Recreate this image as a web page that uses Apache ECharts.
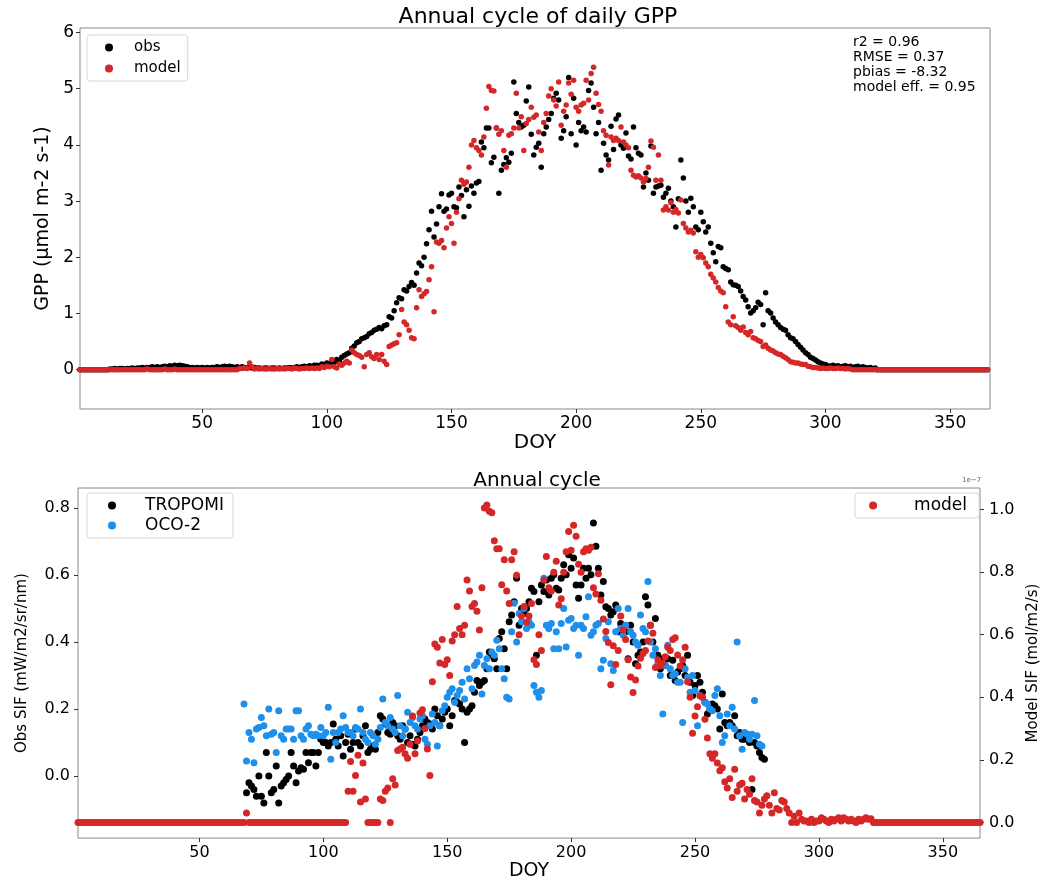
<!DOCTYPE html>
<html><head><meta charset="utf-8">
<script src="https://cdn.jsdelivr.net/npm/echarts@6/dist/echarts.min.js"></script>
<style>html,body{margin:0;padding:0;background:#fff}#c{width:1049px;height:882px}</style>
</head><body><div id="c"></div>
<script>
// ---------- Top chart: daily GPP (one value per DOY, day 1..365) ----------
const obsGPP = [
/*1*/0,0,0,0,0,0,0,0,0,0,
/*11*/0,0,0.01,0.01,0.02,0.01,0.02,0.02,0.01,0.02,
/*21*/0.02,0.03,0.02,0.03,0.03,0.04,0.03,0.04,0.04,0.05,
/*31*/0.04,0.05,0.04,0.05,0.06,0.05,0.07,0.06,0.08,0.07,
/*41*/0.08,0.07,0.06,0.05,0.04,0.04,0.03,0.04,0.03,0.04,
/*51*/0.03,0.04,0.03,0.04,0.04,0.05,0.04,0.05,0.06,0.05,
/*61*/0.06,0.05,0.04,0.05,0.04,0.05,0.04,0.03,0.04,0.03,
/*71*/0.04,0.03,0.03,0.02,0.03,0.03,0.02,0.03,0.03,0.02,
/*81*/0.03,0.02,0.03,0.03,0.04,0.03,0.04,0.05,0.04,0.05,
/*91*/0.06,0.05,0.07,0.06,0.08,0.08,0.06,0.10,0.08,0.12,
/*101*/0.10,0.14,0.13,0.18,0.16,0.22,0.25,0.28,0.30,0.38,
/*111*/0.42,0.48,0.50,0.55,0.57,0.59,0.64,0.66,0.70,0.72,
/*121*/0.75,0.73,0.78,0.80,0.94,0.92,1.05,1.19,1.28,1.26,
/*131*/1.42,1.40,1.48,1.55,1.50,1.72,1.90,1.85,2.00,2.24,
/*141*/2.49,2.82,2.36,2.59,2.90,3.13,2.82,2.86,3.11,3.14,
/*151*/2.90,2.88,3.25,3.10,2.72,3.20,2.91,3.27,3.14,3.32,
/*161*/3.35,4.05,3.95,4.30,4.30,3.68,3.78,4.30,3.14,3.55,
/*171*/3.65,3.77,3.69,3.85,5.12,4.56,4.40,4.32,4.35,4.78,
/*181*/5.03,4.19,3.82,3.96,4.03,3.60,4.20,4.32,4.45,4.56,
/*191*/4.83,4.92,4.80,4.12,4.25,4.50,5.20,4.20,4.83,4.00,
/*201*/4.40,4.25,4.32,4.23,4.97,5.10,4.67,4.20,4.40,3.55,
/*211*/4.03,3.82,3.73,4.33,3.92,4.46,4.53,4.00,3.94,4.21,
/*221*/3.80,3.75,4.32,3.95,3.85,3.82,3.25,3.50,3.37,3.98,
/*231*/3.14,3.25,3.27,3.28,3.07,3.14,3.23,3.00,2.90,2.54,
/*241*/3.04,3.73,3.41,3.00,2.80,3.05,2.90,2.54,2.49,2.80,
/*251*/2.63,2.45,2.54,2.25,2.08,1.92,2.19,2.17,1.83,1.80,
/*261*/1.78,1.56,1.51,1.50,1.48,1.40,1.30,1.24,1.12,1.01,
/*271*/1.05,1.10,1.20,1.16,0.80,1.37,1.05,1.01,0.92,0.85,
/*281*/0.80,0.75,0.72,0.70,0.62,0.57,0.55,0.50,0.45,0.40,
/*291*/0.35,0.30,0.27,0.22,0.20,0.17,0.14,0.12,0.10,0.09,
/*301*/0.07,0.06,0.08,0.06,0.07,0.05,0.06,0.07,0.05,0.06,
/*311*/0.04,0.05,0.06,0.04,0.05,0.04,0.03,0.04,0.02,0.03,
/*321*/0,0,0,0,0,0,0,0,0,0,
/*331*/0,0,0,0,0,0,0,0,0,0,
/*341*/0,0,0,0,0,0,0,0,0,0,
/*351*/0,0,0,0,0,0,0,0,0,0,
/*361*/0,0,0,0,0
];
const modelGPP = [
/*1*/0,0,0,0,0,0,0,0,0,0,
/*11*/0,0,0,0,0,0,0,0,0,0,
/*21*/0,0,0,0,0,0,0,0.01,0,0,
/*31*/0,0,0,0,0.01,0,0,0,0.01,0,
/*41*/0,0,0,0,0,0,0,0,0,0,
/*51*/0,0,0,0,0,0,0,0,0,0,
/*61*/0,0,0,0,0.02,0.02,0.03,0.02,0.12,0.05,
/*71*/0.01,0.02,0.01,0.02,0.01,0.01,0.02,0.01,0.01,0.02,
/*81*/0.01,0.02,0.01,0.02,0.02,0.01,0.03,0.02,0.01,0.02,
/*91*/0.02,0.03,0.02,0.03,0.02,0.03,0.02,0.05,0.04,0.06,
/*101*/0.05,0.18,0.05,0.03,0.10,0.08,0.12,0.15,0.12,0.35,
/*111*/0.30,0.27,0.25,0.22,0.05,0.27,0.30,0.23,0.20,0.27,
/*121*/0.18,0.27,0.15,0.09,0.41,0.44,0.46,0.48,0.62,1.07,
/*131*/0.85,0.80,0.70,0.57,0.55,1.10,1.42,1.30,1.35,1.39,
/*141*/1.60,1.83,1.03,2.27,2.25,2.30,2.17,2.52,2.72,2.60,
/*151*/2.25,2.80,3.04,3.37,3.30,3.34,3.60,4.00,4.08,3.95,
/*161*/3.90,3.82,4.14,4.65,5.04,4.97,4.96,4.30,4.19,4.25,
/*171*/3.90,3.60,4.17,4.20,4.30,4.92,4.30,4.50,3.90,4.38,
/*181*/4.45,4.67,4.49,4.53,4.23,3.90,4.40,4.56,4.87,5.00,
/*191*/4.80,4.69,5.12,4.35,4.60,4.71,5.10,4.90,5.15,4.67,
/*201*/4.60,4.71,4.74,5.15,4.80,5.27,5.38,4.92,4.72,4.60,
/*211*/4.25,4.17,3.64,4.14,4.08,4.12,4.08,4.32,4.05,4.00,
/*221*/3.95,3.55,3.46,3.43,3.45,3.41,3.34,3.40,3.60,4.07,
/*231*/3.96,3.37,3.82,3.37,2.84,2.90,2.84,2.97,2.80,2.85,
/*241*/2.79,3.02,2.60,2.52,2.45,2.48,2.43,2.10,2.00,2.05,
/*251*/1.99,1.90,1.83,1.70,1.63,1.56,1.46,1.40,1.37,1.12,
/*261*/0.85,0.80,0.94,0.78,0.75,0.70,0.76,0.66,0.62,0.68,
/*271*/0.57,0.55,0.52,0.50,0.41,0.44,0.38,0.35,0.33,0.30,
/*281*/0.28,0.27,0.24,0.21,0.18,0.14,0.13,0.12,0.12,0.10,
/*291*/0.09,0.09,0.06,0.05,0.04,0.04,0.03,0.02,0.03,0.02,
/*301*/0.02,0.03,0.02,0.02,0.03,0.02,0.02,0.01,0.02,0.01,
/*311*/0,0,0,0,0,0,0,0,0,0,
/*321*/0,0,0,0,0,0,0,0,0,0,
/*331*/0,0,0,0,0,0,0,0,0,0,
/*341*/0,0,0,0,0,0,0,0,0,0,
/*351*/0,0,0,0,0,0,0,0,0,0,
/*361*/0,0,0,0,0
];
const gppStats = ['r2 = 0.96', 'RMSE = 0.37', 'pbias = -8.32', 'model eff. = 0.95'];

// ---------- Bottom chart: SIF ----------
// Model SIF, one value per DOY (units of 1e-7 mol/m2/s)
const modelSIF = [
/*1*/0,0,0,0,0,0,0,0,0,0,
/*11*/0,0,0,0,0,0,0,0,0,0,
/*21*/0,0,0,0,0,0,0,0,0,0,
/*31*/0,0,0,0,0,0,0,0,0,0,
/*41*/0,0,0,0,0,0,0,0,0,0,
/*51*/0,0,0,0,0,0,0,0,0,0,
/*61*/0,0,0,0,0,0,0,0,0.03,0,
/*71*/0,0,0,0,0,0,0,0,0,0,
/*81*/0,0,0,0,0,0,0,0,0,0,
/*91*/0,0,0,0,0,0,0,0,0,0,
/*101*/0,0,0,0,0,0,0,0,0,0.10,
/*111*/0.195,0.10,0.15,0.215,0.065,0.19,0.075,0,0,0,
/*121*/0,0,0.075,0.07,0.10,0.11,0,0.14,0.12,0.23,
/*131*/0.235,0.24,0.22,0.205,0.25,0.34,0.22,0.26,0.35,0.36,
/*141*/0.30,0.235,0.15,0.45,0.57,0.56,0.51,0.585,0.505,0.52,
/*151*/0.47,0.58,0.60,0.69,0.62,0.60,0.63,0.775,0.74,0.69,
/*161*/0.70,0.675,0.615,0.75,1.005,1.015,0.995,0.99,0.90,0.875,
/*171*/0.875,0.76,0.84,0.74,0.70,0.84,0.865,0.79,0.60,0.66,
/*181*/0.69,0.64,0.66,0.70,0.52,0.505,0.60,0.55,0.775,0.85,
/*191*/0.75,0.74,0.80,0.835,0.695,0.715,0.80,0.865,0.93,0.87,
/*201*/0.95,0.915,0.825,0.80,0.865,0.875,0.87,0.88,0.75,0.73,
/*211*/0.795,0.71,0.65,0.61,0.575,0.44,0.565,0.505,0.55,0.66,
/*221*/0.615,0.585,0.52,0.465,0.415,0.455,0.50,0.525,0.54,0.55,
/*231*/0.58,0.63,0.605,0.495,0.52,0.50,0.51,0.53,0.56,0.55,
/*241*/0.585,0.59,0.535,0.50,0.52,0.56,0.45,0.40,0.285,0.34,
/*251*/0.37,0.405,0.40,0.33,0.27,0.22,0.205,0.22,0.19,0.165,
/*261*/0.175,0.13,0.11,0.14,0.08,0.17,0.10,0.12,0.125,0.075,
/*271*/0.105,0.09,0.14,0.07,0.065,0.03,0.055,0.075,0.085,0.055,
/*281*/0.03,0.095,0.045,0.04,0.07,0.065,0.045,0.03,0,0.02,
/*291*/0,0.03,0.01,0.005,0.005,0,0.01,0,0.005,0.005,
/*301*/0.015,0.01,0.005,0,0.01,0.005,0.01,0.015,0.005,0.015,
/*311*/0.01,0.005,0.01,0.005,0,0.01,0.005,0.01,0.015,0.01,
/*321*/0.012,0,0,0,0,0,0,0,0,0,
/*331*/0,0,0,0,0,0,0,0,0,0,
/*341*/0,0,0,0,0,0,0,0,0,0,
/*351*/0,0,0,0,0,0,0,0,0,0,
/*361*/0,0,0,0,0
];
// TROPOMI SIF [DOY, mW/m2/sr/nm]
const tropomiSIF = [
[69,-0.05],[70,-0.02],[71,-0.03],[72,-0.04],[73,-0.06],[74,0.0],[75,-0.06],[76,-0.08],[77,0.07],[78,0.0],
[79,-0.05],[80,-0.04],[81,0.03],[82,-0.08],[83,-0.03],[84,-0.02],[85,-0.01],[86,0.0],[87,0.07],[88,0.03],
[89,-0.02],[90,0.015],[91,0.025],[92,0.02],[93,0.07],[94,0.04],[95,0.07],[96,0.07],[97,0.03],[98,0.07],
[99,0.11],[100,0.10],[101,0.10],[102,0.09],[103,0.10],[104,0.155],[105,0.11],[106,0.09],[107,0.12],[108,0.06],
[109,0.10],[110,0.125],[111,0.08],[112,0.10],[113,0.14],[114,0.10],[115,0.09],[116,0.12],[117,0.15],[118,0.07],
[119,0.08],[120,0.09],[121,0.08],[122,0.13],[123,0.18],[124,0.17],[125,0.155],[126,0.13],[127,0.125],[128,0.16],
[129,0.15],[130,0.12],[131,0.11],[132,0.15],[133,0.14],[134,0.10],[135,0.12],[136,0.095],[137,0.09],[138,0.11],
[139,0.13],[140,0.15],[141,0.17],[142,0.16],[143,0.155],[144,0.14],[145,0.20],[146,0.18],[147,0.15],[148,0.17],
[149,0.19],[150,0.20],[151,0.15],[152,0.18],[153,0.225],[154,0.22],[155,0.215],[156,0.20],[157,0.10],[158,0.19],
[159,0.20],[160,0.21],[161,0.25],[162,0.285],[163,0.27],[164,0.28],[165,0.285],[166,0.32],[167,0.37],[168,0.36],
[169,0.35],[170,0.32],[171,0.41],[172,0.43],[173,0.38],[174,0.32],[175,0.46],[176,0.48],[177,0.52],[178,0.59],
[179,0.45],[180,0.50],[181,0.485],[182,0.50],[183,0.52],[184,0.56],[185,0.55],[186,0.36],[187,0.52],[188,0.57],
[189,0.55],[190,0.585],[191,0.54],[192,0.59],[193,0.60],[194,0.56],[195,0.555],[196,0.59],[197,0.63],[198,0.60],
[199,0.66],[200,0.62],[201,0.65],[202,0.57],[203,0.53],[204,0.57],[205,0.62],[206,0.59],[207,0.62],[208,0.60],
[209,0.755],[210,0.685],[211,0.62],[212,0.54],[213,0.58],[214,0.505],[215,0.50],[216,0.48],[217,0.49],[218,0.51],
[219,0.43],[220,0.455],[221,0.44],[222,0.43],[223,0.35],[224,0.45],[225,0.40],[226,0.335],[227,0.36],[228,0.37],
[229,0.40],[230,0.535],[231,0.51],[232,0.45],[233,0.40],[234,0.47],[235,0.36],[236,0.32],[237,0.35],[238,0.33],
[239,0.35],[240,0.30],[241,0.345],[242,0.285],[243,0.31],[244,0.32],[245,0.33],[246,0.30],[247,0.36],[248,0.28],
[249,0.24],[250,0.27],[251,0.30],[252,0.28],[253,0.25],[254,0.22],[255,0.185],[256,0.20],[257,0.215],[258,0.21],
[259,0.20],[260,0.14],[261,0.245],[262,0.16],[263,0.15],[264,0.16],[265,0.15],[266,0.18],[267,0.12],[268,0.13],
[269,0.11],[270,0.11],[271,0.125],[272,0.10],[273,-0.04],[274,0.10],[275,0.09],[276,0.07],[277,0.055],[278,0.05]
];
// OCO-2 SIF [DOY, mW/m2/sr/nm]
const oco2SIF = [
[68,0.215],[69,0.045],[70,0.13],[71,0.11],[72,0.04],[73,0.14],[74,0.145],[75,0.175],[76,0.15],[77,0.12],
[78,0.20],[79,0.125],[80,0.13],[81,0.07],[82,0.195],[83,0.12],[84,0.11],[85,0.14],[86,0.14],[87,0.14],
[88,0.11],[89,0.195],[90,0.195],[91,0.12],[92,0.11],[93,0.14],[94,0.15],[95,0.125],[96,0.12],[97,0.125],
[98,0.12],[99,0.145],[100,0.12],[101,0.13],[102,0.205],[103,0.05],[104,0.13],[105,0.10],[106,0.13],[107,0.14],
[108,0.18],[109,0.145],[110,0.13],[111,0.13],[112,0.12],[113,0.145],[114,0.14],[115,0.20],[116,0.13],[117,0.11],
[118,0.10],[119,0.13],[120,0.12],[121,0.095],[122,0.11],[123,0.145],[124,0.23],[125,0.16],[126,0.15],[127,0.175],
[128,0.14],[129,0.13],[130,0.24],[131,0.15],[132,0.12],[133,0.14],[134,0.19],[135,0.16],[136,0.175],[137,0.15],
[138,0.14],[139,0.17],[140,0.18],[141,0.11],[142,0.095],[143,0.15],[144,0.185],[145,0.16],[146,0.09],[147,0.15],
[148,0.195],[149,0.21],[150,0.235],[151,0.25],[152,0.26],[153,0.22],[154,0.24],[155,0.255],[156,0.28],[157,0.23],
[158,0.32],[159,0.29],[160,0.26],[161,0.33],[162,0.34],[163,0.36],[164,0.245],[165,0.33],[166,0.35],[167,0.32],
[168,0.37],[169,0.36],[170,0.405],[171,0.38],[172,0.32],[173,0.29],[174,0.235],[175,0.23],[176,0.43],[177,0.515],
[178,0.40],[179,0.485],[180,0.46],[181,0.50],[182,0.44],[183,0.46],[184,0.45],[185,0.27],[186,0.25],[187,0.235],
[188,0.255],[189,0.59],[190,0.45],[191,0.44],[192,0.455],[193,0.38],[194,0.43],[195,0.38],[196,0.455],[197,0.50],
[198,0.385],[199,0.465],[200,0.47],[201,0.44],[202,0.45],[203,0.36],[204,0.45],[205,0.44],[206,0.475],[207,0.535],
[208,0.42],[209,0.43],[210,0.45],[211,0.455],[212,0.32],[213,0.345],[214,0.41],[215,0.46],[216,0.335],[217,0.315],
[218,0.43],[219,0.50],[220,0.44],[221,0.42],[222,0.45],[223,0.50],[224,0.43],[225,0.42],[226,0.40],[227,0.39],
[228,0.48],[229,0.44],[230,0.43],[231,0.58],[232,0.40],[233,0.36],[234,0.38],[235,0.335],[236,0.30],[237,0.185],
[238,0.33],[239,0.39],[240,0.32],[241,0.30],[242,0.305],[243,0.28],[244,0.28],[245,0.16],[246,0.32],[247,0.295],
[248,0.25],[249,0.30],[250,0.255],[251,0.15],[252,0.24],[253,0.235],[254,0.22],[255,0.215],[256,0.20],[257,0.195],
[258,0.24],[259,0.26],[260,0.18],[261,0.10],[262,0.12],[263,0.185],[264,0.15],[265,0.205],[266,0.14],[267,0.40],
[268,0.12],[269,0.08],[270,0.13],[271,0.125],[272,0.11],[273,0.125],[274,0.225],[275,0.12],[276,0.095],[277,0.09]
];

// Tick values
const doyTicks = [50, 100, 150, 200, 250, 300, 350];
const gppTicks = [0, 1, 2, 3, 4, 5, 6];
const obsSifTicks = [0.0, 0.2, 0.4, 0.6, 0.8];
const modelSifTicks = [0.0, 0.2, 0.4, 0.6, 0.8, 1.0];

const FONT = 'DejaVu Sans';
const RED = '#d62728', BLUE = '#1e8fea', BLACK = '#000000';
const byDay = arr => arr.map((v, i) => [i + 1, v]);

const tick = vals => ({ show: true, inside: false, length: 4, lineStyle: { color: '#333' }, customValues: vals });
const noLine = { show: false, onZero: false };

const chart = echarts.init(document.getElementById('c'), null, { renderer: 'canvas' });
chart.setOption({
  animation: false,
  backgroundColor: '#fff',
  title: [
    { text: 'Annual cycle of daily GPP', left: 533, top: 1, textAlign: 'center',
      textStyle: { fontFamily: FONT, fontSize: 22, fontWeight: 'normal', color: '#000' } },
    { text: 'Annual cycle', left: 532, top: 466, textAlign: 'center',
      textStyle: { fontFamily: FONT, fontSize: 20, fontWeight: 'normal', color: '#000' } }
  ],
  grid: [
    { left: 80, top: 28, width: 910, height: 381, show: true, borderColor: '#888', borderWidth: 1, backgroundColor: 'transparent' },
    { left: 78, top: 488, width: 903, height: 355, show: true, borderColor: '#888', borderWidth: 1, backgroundColor: 'transparent' }
  ],
  xAxis: [
    {
      type: 'value', gridIndex: 0, min: 1, max: 366, splitLine: { show: false }, axisLine: noLine,
      name: 'DOY', nameLocation: 'middle', nameGap: 22,
      nameTextStyle: { fontFamily: FONT, fontSize: 20, color: '#000' },
      axisTick: tick(doyTicks),
      axisLabel: { customValues: doyTicks, fontFamily: FONT, fontSize: 17, color: '#000', margin: 6 }
    },
    {
      type: 'value', gridIndex: 1, min: 1, max: 365, splitLine: { show: false }, axisLine: noLine,
      name: 'DOY', nameLocation: 'middle', nameGap: 19,
      nameTextStyle: { fontFamily: FONT, fontSize: 19, color: '#000' },
      axisTick: tick(doyTicks),
      axisLabel: { customValues: doyTicks, fontFamily: FONT, fontSize: 16, color: '#000', margin: 7 }
    }
  ],
  yAxis: [
    {
      type: 'value', gridIndex: 0, min: -0.7, max: 6.08, splitLine: { show: false }, axisLine: noLine,
      name: 'GPP (μmol m-2 s-1)', nameLocation: 'middle', nameGap: 25,
      nameTextStyle: { fontFamily: FONT, fontSize: 19, color: '#000' },
      axisTick: tick(gppTicks),
      axisLabel: { customValues: gppTicks, fontFamily: FONT, fontSize: 17, color: '#000', margin: 6,
        formatter: v => String(Math.round(v)) }
    },
    {
      type: 'value', gridIndex: 1, min: -0.185, max: 0.859, position: 'left', splitLine: { show: false }, axisLine: noLine,
      name: 'Obs SIF (mW/m2/sr/nm)', nameLocation: 'middle', nameGap: 48,
      nameTextStyle: { fontFamily: FONT, fontSize: 15, color: '#000' },
      axisTick: tick(obsSifTicks),
      axisLabel: { customValues: obsSifTicks, fontFamily: FONT, fontSize: 16, color: '#000', margin: 8,
        formatter: v => v.toFixed(1) }
    },
    {
      type: 'value', gridIndex: 1, min: -0.05, max: 1.069, position: 'right', splitLine: { show: false }, axisLine: noLine,
      name: 'Model SIF (mol/m2/s)', nameLocation: 'middle', nameGap: 46, nameRotate: 90,
      nameTextStyle: { fontFamily: FONT, fontSize: 15, color: '#000' },
      axisTick: tick(modelSifTicks),
      axisLabel: { customValues: modelSifTicks, fontFamily: FONT, fontSize: 16, color: '#000', margin: 9,
        formatter: v => v.toFixed(1) }
    }
  ],
  legend: [
    { data: ['obs', 'model'], orient: 'vertical', left: 87, top: 35,
      icon: 'circle', itemWidth: 8, itemHeight: 8, itemGap: 6,
      padding: [5, 7, 5, 18], borderColor: '#d8d8d8', borderWidth: 1, borderRadius: 3,
      backgroundColor: 'rgba(255,255,255,0.8)',
      textStyle: { fontFamily: FONT, fontSize: 15, lineHeight: 15, color: '#000', padding: [0, 0, 0, 16] } },
    { data: ['TROPOMI', 'OCO-2'], orient: 'vertical', left: 87, top: 493,
      icon: 'circle', itemWidth: 8, itemHeight: 8, itemGap: 3,
      padding: [4, 9, 4, 21], borderColor: '#d8d8d8', borderWidth: 1, borderRadius: 3,
      backgroundColor: 'rgba(255,255,255,0.8)',
      textStyle: { fontFamily: FONT, fontSize: 17, lineHeight: 17, color: '#000', padding: [0, 0, 0, 24] } },
    { data: ['model'], orient: 'vertical', right: 70, top: 493,
      icon: 'circle', itemWidth: 8, itemHeight: 8,
      padding: [4, 12, 4, 14], borderColor: '#d8d8d8', borderWidth: 1, borderRadius: 3,
      backgroundColor: 'rgba(255,255,255,0.8)',
      textStyle: { fontFamily: FONT, fontSize: 17, lineHeight: 17, color: '#000', padding: [0, 0, 0, 32] } }
  ],
  graphic: [
    { type: 'text', left: 853, top: 35,
      style: { text: gppStats.join('\n'), font: '14px "DejaVu Sans"', fill: '#000', lineHeight: 15 } },
    { type: 'text', left: 962, top: 477,
      style: { text: '1e\u22127', font: '7px "DejaVu Sans"', fill: '#666' } }
  ],
  series: [
    { name: 'obs', type: 'scatter', xAxisIndex: 0, yAxisIndex: 0, data: byDay(obsGPP),
      symbolSize: 5.5, itemStyle: { color: BLACK, opacity: 1 } },
    { name: 'model', type: 'scatter', xAxisIndex: 0, yAxisIndex: 0, data: byDay(modelGPP),
      symbolSize: 5.5, itemStyle: { color: RED, opacity: 1 } },
    { name: 'TROPOMI', type: 'scatter', xAxisIndex: 1, yAxisIndex: 1, data: tropomiSIF,
      symbolSize: 7, itemStyle: { color: BLACK, opacity: 1 } },
    { name: 'OCO-2', type: 'scatter', xAxisIndex: 1, yAxisIndex: 1, data: oco2SIF,
      symbolSize: 7, itemStyle: { color: BLUE, opacity: 1 } },
    { name: 'model', type: 'scatter', xAxisIndex: 1, yAxisIndex: 2, data: byDay(modelSIF),
      symbolSize: 7, itemStyle: { color: RED, opacity: 1 } }
  ]
});
</script>
</body></html>
